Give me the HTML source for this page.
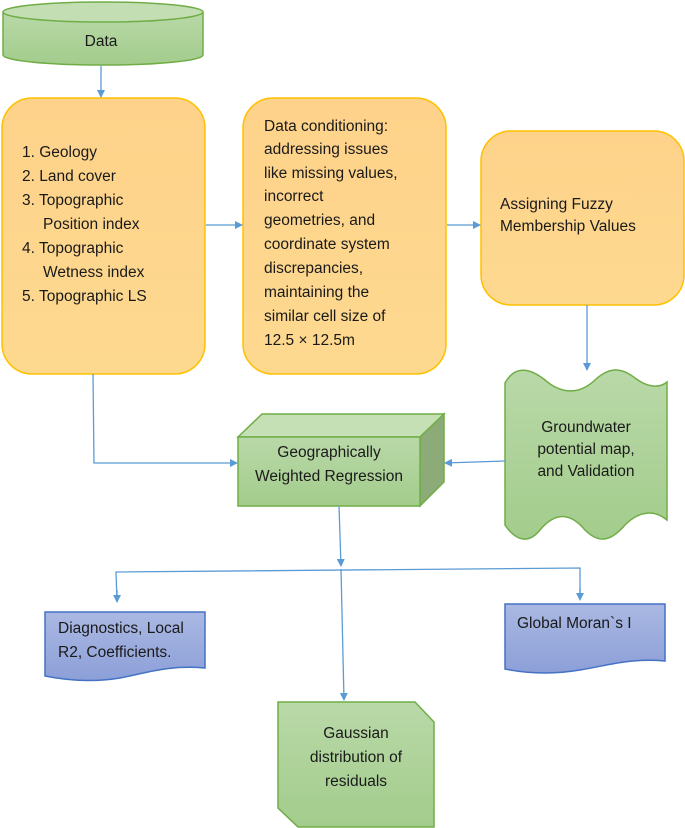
<!DOCTYPE html>
<html><head><meta charset="utf-8"><style>
html,body{margin:0;padding:0;background:#fff;width:685px;height:828px;overflow:hidden}
svg{display:block}
text{font-family:"Liberation Sans",sans-serif;font-size:15.5px;fill:#1a1a1a}
</style></head><body>
<svg width="685" height="828" viewBox="0 0 685 828" xmlns="http://www.w3.org/2000/svg">
<defs>
<linearGradient id="g" x1="0" y1="0" x2="0" y2="1"><stop offset="0" stop-color="#b9d9a8"/><stop offset="1" stop-color="#a3cc8c"/></linearGradient>
<linearGradient id="o" x1="0" y1="0" x2="0" y2="1"><stop offset="0" stop-color="#fed28a"/><stop offset="1" stop-color="#fdd98f"/></linearGradient>
<linearGradient id="b" x1="0" y1="0" x2="0" y2="1"><stop offset="0" stop-color="#aab8e2"/><stop offset="1" stop-color="#8c9fd8"/></linearGradient>
<marker id="a" markerWidth="8" markerHeight="8" refX="7" refY="4" orient="auto" markerUnits="userSpaceOnUse"><path d="M0,0 L8,4 L0,8 z" fill="#5b9bd5"/></marker>
</defs>
<path d="M3,12 L3,55 A100,10 0 0 0 203,55 L203,12" fill="url(#g)" stroke="#70ad47" stroke-width="1.5"/>
<ellipse cx="103" cy="12" rx="100" ry="10" fill="#c3deb3" stroke="#70ad47" stroke-width="1.5"/>
<text x="101" y="46" text-anchor="middle">Data</text>
<rect x="2" y="98" width="203" height="276" rx="30" fill="url(#o)" stroke="#ffc000" stroke-width="1.5"/>
<rect x="243" y="98" width="203" height="276" rx="30" fill="url(#o)" stroke="#ffc000" stroke-width="1.5"/>
<rect x="481" y="131" width="203" height="174" rx="30" fill="url(#o)" stroke="#ffc000" stroke-width="1.5"/>
<text x="22" y="157">1.  Geology</text>
<text x="22" y="181">2. Land cover</text>
<text x="22" y="205">3. Topographic</text>
<text x="43" y="229">Position index</text>
<text x="22" y="253">4. Topographic</text>
<text x="43" y="277">Wetness index</text>
<text x="22" y="301">5. Topographic LS</text>
<text x="264" y="131">Data conditioning:</text>
<text x="264" y="154">addressing issues</text>
<text x="264" y="178">like missing values,</text>
<text x="264" y="201">incorrect</text>
<text x="264" y="225">geometries, and</text>
<text x="264" y="249">coordinate system</text>
<text x="264" y="273">discrepancies,</text>
<text x="264" y="297">maintaining the</text>
<text x="264" y="321">similar cell size of</text>
<text x="264" y="345">12.5 × 12.5m</text>
<text x="500" y="209">Assigning Fuzzy</text>
<text x="500" y="231">Membership Values</text>
<path d="M505,383 C515,365 530,368 545,380 C560,393 578,396 595,380 C610,366 622,368 635,378 C648,388 660,388 667,382 L667,520 C655,510 640,510 625,525 C612,540 600,545 585,530 C570,512 555,512 540,530 C528,545 515,540 505,525 Z" fill="url(#g)" stroke="#70ad47" stroke-width="1.5"/>
<text x="586" y="432" text-anchor="middle">Groundwater</text>
<text x="586" y="454" text-anchor="middle">potential map,</text>
<text x="586" y="476" text-anchor="middle">and Validation</text>
<path d="M238,437 L262,414 L444,414 L420,437 Z" fill="#c5e0b4" stroke="#70ad47" stroke-width="1.5"/>
<path d="M420,437 L444,414 L444,482 L420,506 Z" fill="#8cab78" stroke="#70ad47" stroke-width="1.5"/>
<rect x="238" y="437" width="182" height="69" fill="url(#g)" stroke="#70ad47" stroke-width="1.5"/>
<text x="329" y="457" text-anchor="middle">Geographically</text>
<text x="329" y="481" text-anchor="middle">Weighted Regression</text>
<path d="M45,612 L205,612 L205,668 C170,665 150,672 120,678 C90,683 65,680 45,676 Z" fill="url(#b)" stroke="#4472c4" stroke-width="1.5"/>
<text x="58" y="633">Diagnostics, Local</text>
<text x="58" y="657">R2, Coefficients.</text>
<path d="M505,604 L665,604 L665,661 C630,658 610,665 580,670 C550,675 525,673 505,669 Z" fill="url(#b)" stroke="#4472c4" stroke-width="1.5"/>
<text x="517" y="628">Global Moran`s I</text>
<path d="M278,702 L415,702 L434,722 L434,827 L298,827 L278,808 Z" fill="url(#g)" stroke="#70ad47" stroke-width="1.5"/>
<text x="356" y="738" text-anchor="middle">Gaussian</text>
<text x="356" y="762" text-anchor="middle">distribution of</text>
<text x="356" y="786" text-anchor="middle">residuals</text>
<g stroke="#5b9bd5" stroke-width="1.3" fill="none">
<line x1="101" y1="66" x2="101" y2="97" marker-end="url(#a)"/>
<line x1="206" y1="225" x2="242" y2="225" marker-end="url(#a)"/>
<line x1="447" y1="225" x2="480" y2="225" marker-end="url(#a)"/>
<line x1="587" y1="305" x2="587" y2="370" marker-end="url(#a)"/>
<polyline points="93,374 94,463 237,463" marker-end="url(#a)"/>
<line x1="505" y1="461" x2="445" y2="463" marker-end="url(#a)"/>
<line x1="339" y1="506" x2="341" y2="566" marker-end="url(#a)"/>
<polyline points="117,602 116,572 580,568 580,599" />
<line x1="117" y1="590" x2="117" y2="602" marker-end="url(#a)"/>
<line x1="580" y1="588" x2="580" y2="600" marker-end="url(#a)"/>
<line x1="341" y1="569" x2="344" y2="700" marker-end="url(#a)"/>
</g>
</svg>
</body></html>
